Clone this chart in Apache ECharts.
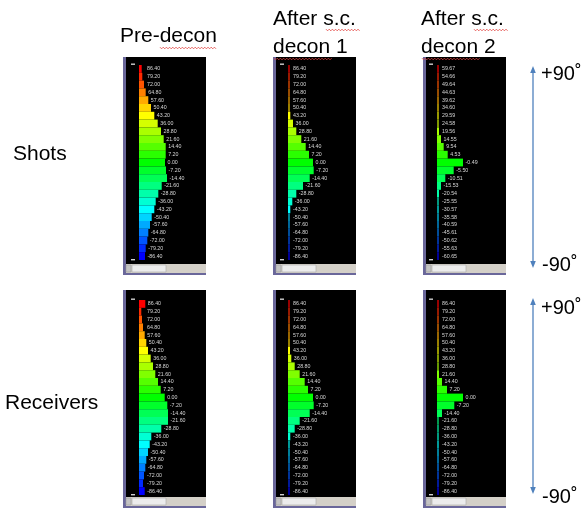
<!DOCTYPE html>
<html>
<head>
<meta charset="utf-8">
<script src="https://cdn.jsdelivr.net/npm/echarts@6/dist/echarts.min.js"></script>
<style>
html,body{margin:0;padding:0;background:#fff;}
#chart{width:586px;height:510px;}
</style>
</head>
<body>
<div id="chart"></div>
<script>
// Tick labels (top to bottom)
var ticks90 = ['86.40','79.20','72.00','64.80','57.60','50.40','43.20','36.00','28.80','21.60','14.40','7.20','0.00','-7.20','-14.40','-21.60','-28.80','-36.00','-43.20','-50.40','-57.60','-64.80','-72.00','-79.20','-86.40'];
var ticks60 = ['59.67','54.66','49.64','44.63','39.62','34.60','29.59','24.58','19.56','14.55','9.54','4.53','-0.49','-5.50','-10.51','-15.53','-20.54','-25.55','-30.57','-35.58','-40.59','-45.61','-50.62','-55.63','-60.65'];

// Histogram counts (relative), one per tick, top to bottom
var shotsPre    = [2.7, 3.3, 5, 6.7, 9.3, 12, 15.3, 18.7, 22, 24.7, 26.7, 26.7, 26, 27, 28, 22.7, 19.3, 16.7, 15.3, 12.7, 11, 9.3, 8.3, 6.7, 6];
var shotsDecon1 = [0, 0, 0, 0, 0, 0, 2.3, 5, 8.3, 13.3, 17.7, 21, 25, 25.7, 21.7, 15, 8.3, 4.3, 2.3, 0, 0, 0, 0, 0, 0];
var shotsDecon2 = [0, 0, 0, 0, 0, 0, 0, 0, 1.5, 4, 6.7, 10.7, 26, 16.7, 8.3, 4, 1.5, 0, 0, 0, 0, 0, 0, 0, 0];
var recvPre     = [6.3, 2.3, 3, 4, 5.7, 7.3, 9, 11.7, 14, 16.3, 19, 21.7, 25.7, 28.3, 29, 29, 22.3, 12.3, 10.7, 9, 7.3, 6.3, 5, 4, 5.7];
var recvDecon1  = [0, 0, 0, 0, 0, 0, 1, 3.3, 6.7, 11.7, 16.7, 20, 25, 25.7, 21.7, 11.7, 6.7, 2.3, 0, 0, 0, 0, 0, 0, 0];
var recvDecon2  = [0, 0, 0, 0, 0, 0, 0, 0, 0, 1.7, 5, 10, 26, 17.3, 5, 0, 0, 0, 0, 0, 0, 0, 0, 0, 0];

var columnTitles = [['Pre-decon'], ['After s.c.', 'decon 1'], ['After s.c.', 'decon 2']];
var rowTitles = ['Shots', 'Receivers'];
var angleTop = '+90˚', angleBottom = '-90˚';

// Layout
var FONT = '"Liberation Sans", Arial, sans-serif';
var colL = [123, 273, 423];
var baseOff = [16, 15, 14];
var minLabOff = [8, 5, 5];
var rowT = [57, 290];
var gridTop = [65, 300];
var PW = 83, PH = 218, GH = 195, GW = 60;

var panels = [
  {row:0, col:0, ticks:ticks90, data:shotsPre},
  {row:0, col:1, ticks:ticks90, data:shotsDecon1},
  {row:0, col:2, ticks:ticks60, data:shotsDecon2},
  {row:1, col:0, ticks:ticks90, data:recvPre},
  {row:1, col:1, ticks:ticks90, data:recvDecon1},
  {row:1, col:2, ticks:ticks90, data:recvDecon2}
];

function hsl(h, l) { return 'hsl(' + h + ',100%,' + l + '%)'; }

var grids = [], xAxes = [], yAxes = [], series = [], gfx = [];

panels.forEach(function (p, i) {
  var L = colL[p.col], T = rowT[p.row];
  var base = L + baseOff[p.col];
  p.base = base;
  p.minOff = minLabOff[p.col];
  // frame
  gfx.push({type:'rect', z:0, shape:{x:L, y:T, width:PW, height:PH}, style:{fill:'#6a679a'}});
  gfx.push({type:'rect', z:0, shape:{x:L+3, y:T, width:PW-3, height:PH-11}, style:{fill:'#000'}});
  gfx.push({type:'rect', z:0, shape:{x:L+3, y:T+PH-11, width:PW-3, height:9}, style:{fill:'#d4d0c8'}});
  gfx.push({type:'rect', z:0, shape:{x:L+3, y:T+PH-10, width:5, height:7}, style:{fill:'#c4c4c4', stroke:'#9a9a9a', lineWidth:0.6}});
  gfx.push({type:'rect', z:0, shape:{x:L+9, y:T+PH-10, width:34, height:7}, style:{fill:'#ececec', stroke:'#a8a8a8', lineWidth:0.6}});
  // end dashes
  gfx.push({type:'rect', z:1, shape:{x:base-8, y:gridTop[p.row]-1.5, width:4, height:1.4}, style:{fill:'#d0d0d0'}});
  gfx.push({type:'rect', z:1, shape:{x:base-8, y:gridTop[p.row]+GH-1, width:4, height:1.4}, style:{fill:'#d0d0d0'}});

  grids.push({left:base, top:gridTop[p.row], width:GW, height:GH, containLabel:false});
  xAxes.push({type:'value', gridIndex:i, min:0, max:GW, show:false});
  yAxes.push({type:'category', gridIndex:i, data:p.ticks, inverse:true, show:false});
  series.push({
    type:'bar', xAxisIndex:i, yAxisIndex:i, data:p.data,
    barCategoryGap:'0%', barMinHeight:2, z:2, animation:false,
    itemStyle:{
      color:function (params) {
        var h = 240 * params.dataIndex / 24;
        return params.value === 0 ? hsl(h, 30) : hsl(h, 50);
      }
    },
    label:{show:true, position:'right', formatter:'{b}', color:'#d6d6d6', fontSize:5.3, fontFamily:FONT},
    labelLayout:function (params) {
      var pp = panels[params.seriesIndex];
      var end = params.rect.x + params.rect.width;
      return {
        x: Math.max(end + 2.5, pp.base + pp.minOff),
        y: params.rect.y + params.rect.height / 2,
        align:'left', verticalAlign:'middle'
      };
    }
  });
});

// Titles
function txt(s, x, y, size) {
  return {type:'text', z:5, x:x, y:y, style:{text:s, fill:'#000', font:size + 'px ' + FONT, textAlign:'left', textVerticalAlign:'middle'}};
}
gfx.push(txt(columnTitles[0][0], 120, 36, 21));
gfx.push(txt(columnTitles[1][0], 273, 19, 21));
gfx.push(txt(columnTitles[1][1], 273, 47, 21));
gfx.push(txt(columnTitles[2][0], 421, 19, 21));
gfx.push(txt(columnTitles[2][1], 421, 47, 21));
gfx.push(txt(rowTitles[0], 13, 154, 21));
gfx.push(txt(rowTitles[1], 5, 403, 21));

// spell-check squiggles
function squiggle(x1, x2, y) {
  var pts = [], k = 0;
  for (var x = x1; x <= x2; x += 1.6, k++) pts.push([x, y + (k % 2 ? 0.8 : -0.8)]);
  return {type:'polyline', z:5, shape:{points:pts}, style:{stroke:'#e2403c', lineWidth:0.8, fill:null}};
}
gfx.push(squiggle(160, 216, 48));
gfx.push(squiggle(326, 360, 30));
gfx.push(squiggle(274, 332, 59));
gfx.push(squiggle(474, 508, 30));
gfx.push(squiggle(422, 480, 59));

// angle arrows
function arrow(x, y1, y2) {
  var c = '#4f81bd';
  return [
    {type:'line', z:5, shape:{x1:x, y1:y1+5, x2:x, y2:y2-5}, style:{stroke:c, lineWidth:1.3}},
    {type:'polygon', z:5, shape:{points:[[x, y1], [x-2.8, y1+7], [x+2.8, y1+7]]}, style:{fill:c}},
    {type:'polygon', z:5, shape:{points:[[x, y2], [x-2.8, y2-7], [x+2.8, y2-7]]}, style:{fill:c}}
  ];
}
gfx = gfx.concat(arrow(533, 66, 268));
gfx = gfx.concat(arrow(533, 298, 494));
gfx.push(txt(angleTop, 541, 74, 20));
gfx.push(txt(angleBottom, 542, 265, 20));
gfx.push(txt(angleTop, 541, 308, 20));
gfx.push(txt(angleBottom, 542, 497, 20));

var chart = echarts.init(document.getElementById('chart'), null, {renderer:'canvas'});
chart.setOption({
  animation:false,
  backgroundColor:'#fff',
  grid:grids, xAxis:xAxes, yAxis:yAxes, series:series,
  graphic:{elements:gfx}
});
</script>
</body>
</html>
